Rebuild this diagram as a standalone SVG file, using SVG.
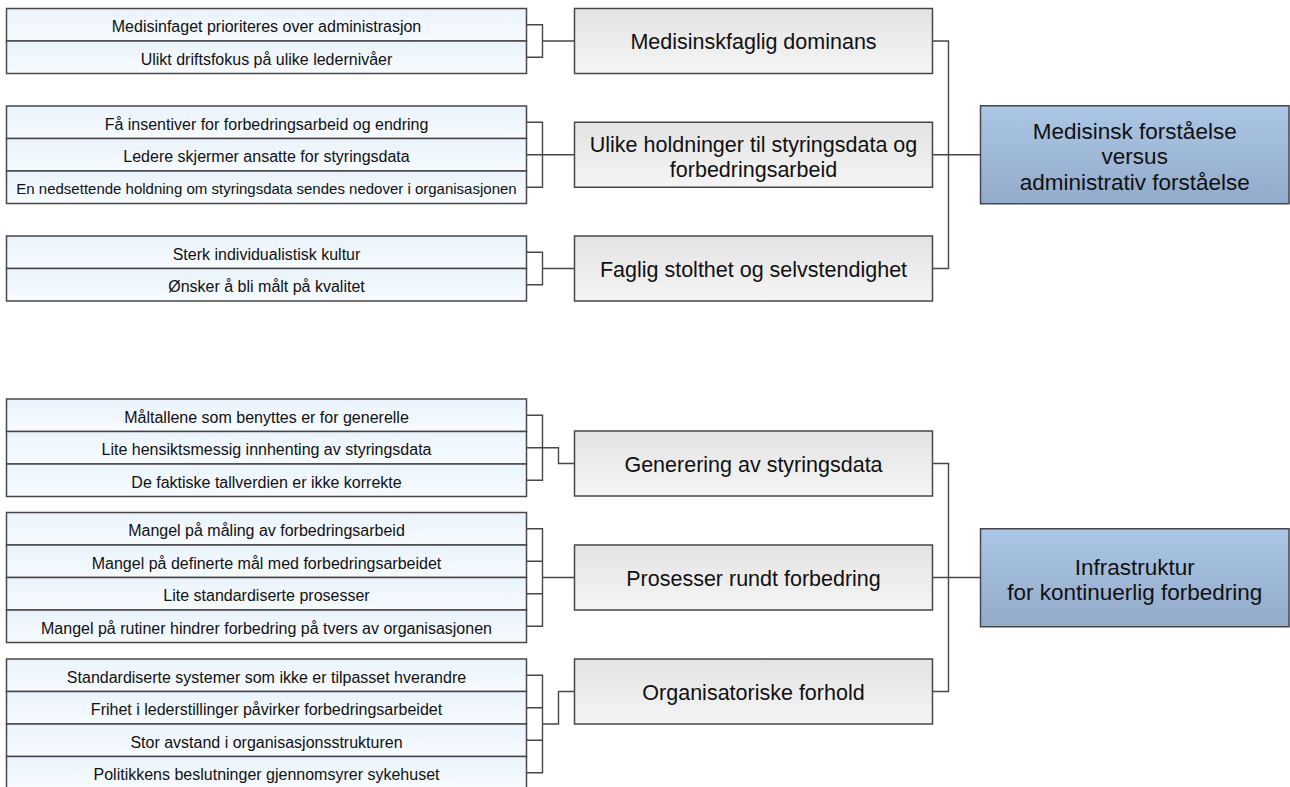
<svg xmlns="http://www.w3.org/2000/svg" width="1290" height="787" viewBox="0 0 1290 787">
<defs>
<linearGradient id="gLeaf" x1="0" y1="0" x2="0" y2="1"><stop offset="0" stop-color="#eaf3fd"/><stop offset="1" stop-color="#f7fbff"/></linearGradient>
<linearGradient id="gMid" x1="0" y1="0" x2="0" y2="1"><stop offset="0" stop-color="#e3e3e3"/><stop offset="1" stop-color="#f5f5f5"/></linearGradient>
<linearGradient id="gRoot" x1="0" y1="0" x2="0" y2="1"><stop offset="0" stop-color="#abc6e6"/><stop offset="1" stop-color="#93abca"/></linearGradient>
</defs>
<style>
.leaf{fill:url(#gLeaf);stroke:#474747;stroke-width:1.5}
.mid{fill:url(#gMid);stroke:#474747;stroke-width:1.5}
.root{fill:url(#gRoot);stroke:#474747;stroke-width:1.5}
text{font-family:"Liberation Sans",Arial,Helvetica,sans-serif;fill:#111;text-anchor:middle}
.t16{font-size:16px}
.t15{font-size:15px}
.t21{font-size:21.5px}
.t22{font-size:22.5px}
.conn{fill:none;stroke:#474747;stroke-width:1.4}
</style>
<rect width="1290" height="787" fill="#ffffff"/>

<g id="connectors">
<path class="conn" d="M526.5,24.75 H542.5 V57.25 H526.5 M542.5,41 H574.5"/>
<path class="conn" d="M526.5,122.25 H542.5 V187.25 H526.5 M526.5,154.75 H574.5"/>
<path class="conn" d="M526.5,252.25 H542.5 V284.75 H526.5 M542.5,268.5 H574.5"/>
<path class="conn" d="M526.5,415.25 H542.5 V480.25 H526.5 M526.5,447.75 H558.5 V463.5 H574.5"/>
<path class="conn" d="M526.5,528.75 H542.5 V626.25 H526.5 M526.5,561.25 H542.5 M526.5,593.75 H542.5 M542.5,577.5 H574.5"/>
<path class="conn" d="M526.5,675.25 H542.5 V772.75 H526.5 M526.5,707.75 H542.5 M526.5,740.25 H542.5 M542.5,724 H558.5 V691.5 H574.5"/>
<path class="conn" d="M932.5,41 H948.5 V268.5 H932.5 M932.5,154.75 H980.5"/>
<path class="conn" d="M932.5,463.5 H948.5 V691.5 H932.5 M932.5,577.5 H980.5"/>
</g>

<g id="leaf-g1">
<rect class="leaf" x="6.5" y="8.5" width="520" height="32.5"/><text class="t16" x="266.5" y="32">Medisinfaget prioriteres over administrasjon</text>
<rect class="leaf" x="6.5" y="41" width="520" height="32.5"/><text class="t16" x="266.5" y="64.5">Ulikt driftsfokus på ulike ledernivåer</text>
</g>
<g id="leaf-g2">
<rect class="leaf" x="6.5" y="106" width="520" height="32.5"/><text class="t16" x="266.5" y="129.5">Få insentiver for forbedringsarbeid og endring</text>
<rect class="leaf" x="6.5" y="138.5" width="520" height="32.5"/><text class="t16" x="266.5" y="162">Ledere skjermer ansatte for styringsdata</text>
<rect class="leaf" x="6.5" y="171" width="520" height="32.5"/><text class="t15" x="266.5" y="194">En nedsettende holdning om styringsdata sendes nedover i organisasjonen</text>
</g>
<g id="leaf-g3">
<rect class="leaf" x="6.5" y="236" width="520" height="32.5"/><text class="t16" x="266.5" y="259.5">Sterk individualistisk kultur</text>
<rect class="leaf" x="6.5" y="268.5" width="520" height="32.5"/><text class="t16" x="266.5" y="292">Ønsker å bli målt på kvalitet</text>
</g>
<g id="leaf-g4">
<rect class="leaf" x="6.5" y="399" width="520" height="32.5"/><text class="t16" x="266.5" y="422.5">Måltallene som benyttes er for generelle</text>
<rect class="leaf" x="6.5" y="431.5" width="520" height="32.5"/><text class="t16" x="266.5" y="455">Lite hensiktsmessig innhenting av styringsdata</text>
<rect class="leaf" x="6.5" y="464" width="520" height="32.5"/><text class="t16" x="266.5" y="487.5">De faktiske tallverdien er ikke korrekte</text>
</g>
<g id="leaf-g5">
<rect class="leaf" x="6.5" y="512.5" width="520" height="32.5"/><text class="t16" x="266.5" y="536">Mangel på måling av forbedringsarbeid</text>
<rect class="leaf" x="6.5" y="545" width="520" height="32.5"/><text class="t16" x="266.5" y="568.5">Mangel på definerte mål med forbedringsarbeidet</text>
<rect class="leaf" x="6.5" y="577.5" width="520" height="32.5"/><text class="t16" x="266.5" y="601">Lite standardiserte prosesser</text>
<rect class="leaf" x="6.5" y="610" width="520" height="32.5"/><text class="t16" x="266.5" y="633.5">Mangel på rutiner hindrer forbedring på tvers av organisasjonen</text>
</g>
<g id="leaf-g6">
<rect class="leaf" x="6.5" y="659" width="520" height="32.5"/><text class="t16" x="266.5" y="682.5">Standardiserte systemer som ikke er tilpasset hverandre</text>
<rect class="leaf" x="6.5" y="691.5" width="520" height="32.5"/><text class="t16" x="266.5" y="715">Frihet i lederstillinger påvirker forbedringsarbeidet</text>
<rect class="leaf" x="6.5" y="724" width="520" height="32.5"/><text class="t16" x="266.5" y="747.5">Stor avstand i organisasjonsstrukturen</text>
<rect class="leaf" x="6.5" y="756.5" width="520" height="32.5"/><text class="t16" x="266.5" y="780">Politikkens beslutninger gjennomsyrer sykehuset</text>
</g>

<g id="mid-1"><rect class="mid" x="574.5" y="8.5" width="358" height="65"/><text class="t21" x="753.5" y="49">Medisinskfaglig dominans</text></g>
<g id="mid-2"><rect class="mid" x="574.5" y="122.25" width="358" height="65"/><text class="t21" x="753.5" y="152">Ulike holdninger til styringsdata og</text><text class="t21" x="753.5" y="177">forbedringsarbeid</text></g>
<g id="mid-3"><rect class="mid" x="574.5" y="236" width="358" height="65"/><text class="t21" x="753.5" y="276.5">Faglig stolthet og selvstendighet</text></g>
<g id="mid-4"><rect class="mid" x="574.5" y="431" width="358" height="65"/><text class="t21" x="753.5" y="471.5">Generering av styringsdata</text></g>
<g id="mid-5"><rect class="mid" x="574.5" y="545" width="358" height="65"/><text class="t21" x="753.5" y="585.5">Prosesser rundt forbedring</text></g>
<g id="mid-6"><rect class="mid" x="574.5" y="659" width="358" height="65"/><text class="t21" x="753.5" y="699.5">Organisatoriske forhold</text></g>

<g id="root-1"><rect class="root" x="980.5" y="105.75" width="308.5" height="98"/><text class="t22" x="1134.75" y="139">Medisinsk forståelse</text><text class="t22" x="1134.75" y="164">versus</text><text class="t22" x="1134.75" y="189.5">administrativ forståelse</text></g>
<g id="root-2"><rect class="root" x="980.5" y="528.75" width="308.5" height="98"/><text class="t22" x="1134.75" y="575">Infrastruktur</text><text class="t22" x="1134.75" y="600">for kontinuerlig forbedring</text></g>
</svg>
